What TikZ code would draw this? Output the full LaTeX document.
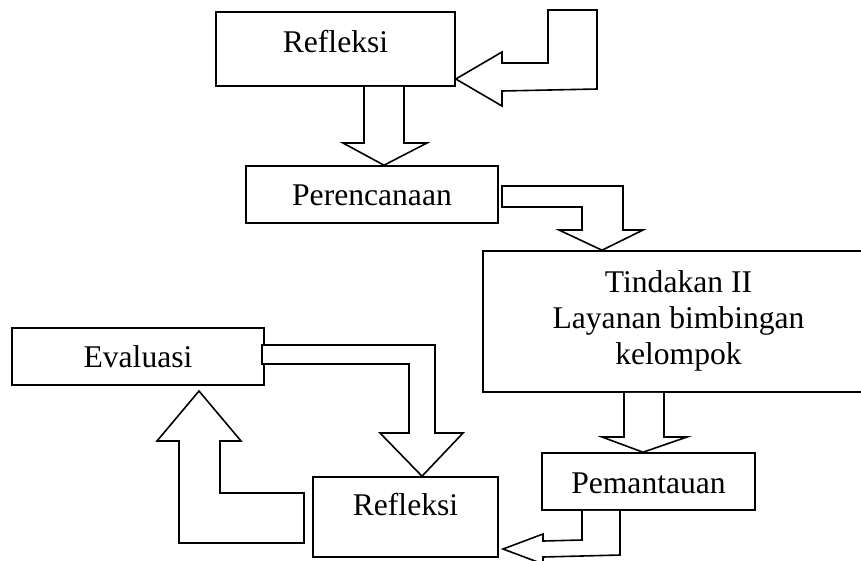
\documentclass[tikz,border=0pt]{standalone}
\usepackage{fontspec}
\setmainfont{Liberation Serif}
\begin{document}
\begin{tikzpicture}[x=1pt,y=-1pt,
  line width=1.6pt, line join=miter,
  stage/.style={draw, rectangle, inner sep=0pt, anchor=base,
    font=\fontsize{31.6}{36}\selectfont},
  blockarrow/.style={draw, fill=white}]
\useasboundingbox (0,0) rectangle (861,560);
\clip (0,0) rectangle (861,560);

% stages of the cycle
\node[stage, minimum width=239pt, text height=40pt, text depth=34pt] (refA) at (335.5,52) {Refleksi};
\node[stage, minimum width=252pt, text height=39pt, text depth=18pt] (plan) at (372,205) {Perencanaan};
\node[stage, minimum width=391pt, text height=41pt, text depth=100pt] (act) at (678.5,292)
  {\begin{tabular}[t]{@{}c@{}}Tindakan II\\Layanan bimbingan\\kelompok\end{tabular}};
\node[stage, minimum width=213pt, text height=40pt, text depth=17pt] (obs) at (648.5,493) {Pemantauan};
\node[stage, minimum width=252pt, text height=39pt, text depth=18pt] (eval) at (138,367) {Evaluasi};
\node[stage, minimum width=185pt, text height=38pt, text depth=42pt] (refB) at (405.5,515) {Refleksi};

% incoming arrow into the first reflection
\draw[blockarrow] (548,10) -- (597,10) -- (597,89) -- (502,91) -- (502,106)
  -- (refA.east |- 0,79) -- (502,52) -- (502,63) -- (548,63) -- cycle;

% reflection -> planning
\draw[blockarrow] (364,0 |- refA.south) -- (364,143) -- (343,143)
  -- (384,0 |- plan.north) -- (427,143) -- (404,143) -- (404,0 |- refA.south);

% planning -> action
\draw[blockarrow] (502,186) -- (623,186) -- (623,230) -- (643,230)
  -- (602,0 |- act.north) -- (559,230) -- (582,230) -- (582,207) -- (502,207) -- cycle;

% action -> observation
\draw[blockarrow] (624,0 |- act.south) -- (624,437) -- (602,437)
  -- (643,0 |- obs.north) -- (687,437) -- (664,437) -- (664,0 |- act.south);

% observation -> second reflection
\draw[blockarrow] (582,0 |- obs.south) -- (582,540) -- (543,541) -- (543,534)
  -- (503,549) -- (543,564) -- (543,557) -- (620,555) -- (620,0 |- obs.south);

% evaluation -> second reflection
\draw[blockarrow] (262,345) -- (435,345) -- (435,433) -- (463,433)
  -- (422,0 |- refB.north) -- (380,433) -- (409,433) -- (409,364) -- (262,364) -- cycle;

% second reflection -> evaluation
\draw[blockarrow] (304,543) -- (179,543) -- (179,441) -- (157,441)
  -- (199,391) -- (241,441) -- (220,441) -- (220,493) -- (304,493) -- cycle;
\end{tikzpicture}
\end{document}
